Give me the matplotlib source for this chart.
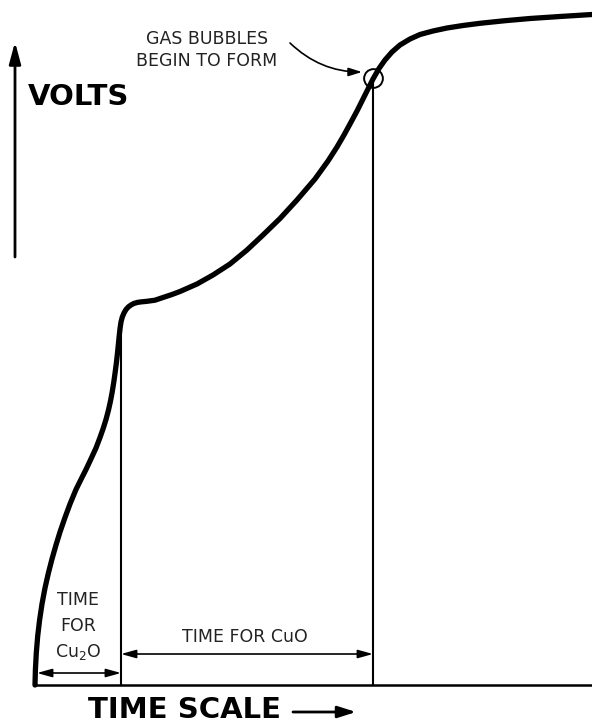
import matplotlib
matplotlib.use("Agg")
import matplotlib.pyplot as plt
import numpy as np

plt.rcParams['font.family'] = 'DejaVu Sans'
plt.rcParams['mathtext.default'] = 'regular'

# schematic anodizing curve (time, volts) in arbitrary units
time = [0, 0.4, 1.3, 2.7, 4.6, 7, 10, 13.4, 17, 21,
        25, 30, 35, 41, 46.7, 51, 55, 61, 65, 68,
        71, 73.5, 75.5, 77.2, 78.8, 80.2, 81.5, 82.6, 83.5, 84.3,
        85.1, 86, 87.3, 89, 91, 93.5, 96, 99, 102.5, 106,
        112, 120, 128, 137, 145, 162, 178, 195, 212, 228,
        245, 262, 280, 293, 302, 309, 315, 322, 328, 333,
        338, 344, 350, 357, 365, 375, 385, 398, 412, 428,
        445, 470, 495, 525, 557]
volts = [0, 15, 32, 49, 65, 81, 97, 112, 126, 140,
         153, 167.5, 181, 195.5, 207, 215.5, 224, 237, 247.5, 256,
         265.5, 275, 284, 293, 303, 313, 323, 333, 342, 350,
         357, 363, 368, 372, 375.5, 378.2, 380, 381.6, 382.6, 383.1,
         383.7, 384.8, 387.5, 390.5, 393.5, 401, 410, 421, 435, 450,
         466.5, 485, 506, 524, 538, 550, 561, 574, 586, 596,
         606, 616.5, 625, 633, 640, 646, 650.5, 654, 657, 659.5,
         661.7, 664.3, 666.5, 668.5, 670.5]

t_cu2o = 86      # end of Cu2O stage
t_cuo = 338      # gas bubbles begin
bubble_point = (338, 607)

fig = plt.figure(figsize=(5.92, 7.23), dpi=100)
ax = fig.add_axes([0, 0, 1, 1])
ax.set_xlim(-35, 557)
ax.set_ylim(-38, 685)
ax.axis('off')

# baseline
ax.plot([-2, 557], [0, 0], color='black', lw=1.8, solid_capstyle='butt')

# curve
ax.plot(time, volts, color='black', lw=3.8, solid_joinstyle='round',
        solid_capstyle='round')

# vertical markers
for t in (t_cu2o, t_cuo):
    ax.plot([t, t], [0, np.interp(t, time, volts)], color='black', lw=1.5)

# bubble circle
ax.plot(*bubble_point, 'o', ms=13.5, mfc='none', mec='black', mew=1.4)

# interval arrows
arr = dict(arrowstyle='<|-|>,head_length=0.9,head_width=0.25',
           color='black', lw=1.2, shrinkA=0, shrinkB=0)
ax.annotate('', xy=(2, 12), xytext=(t_cu2o, 12), arrowprops=arr)
ax.annotate('', xy=(t_cu2o, 31), xytext=(t_cuo, 31), arrowprops=arr)

ax.text(210, 48, 'TIME FOR CuO', ha='center', va='center', fontsize=12.5,
        color='#222222')
for y, s in zip([85, 59, 33], ['TIME', 'FOR', 'Cu$_2$O']):
    ax.text(43, y, s, ha='center', va='center', fontsize=12.5, color='#222222')

# gas bubble annotation
ax.text(172, 635, 'GAS BUBBLES\nBEGIN TO FORM', ha='center', va='center',
        fontsize=12.5, color='#222222', linespacing=1.35)
ax.annotate('', xy=(327, 613), xytext=(255, 642),
            arrowprops=dict(arrowstyle='-|>,head_length=0.8,head_width=0.25',
                            color='black', lw=1.2, shrinkA=0, shrinkB=0,
                            connectionstyle='arc3,rad=0.2'))

# axis arrows and labels
ax.annotate('', xy=(-20, 643), xytext=(-20, 428),
            arrowprops=dict(arrowstyle='-|>,head_length=1.3,head_width=0.35',
                            color='black', lw=2, shrinkA=0, shrinkB=0))
ax.text(-7, 588, 'VOLTS', ha='left', va='center', fontsize=21,
        fontweight='bold')
ax.text(53, -25, 'TIME SCALE', ha='left', va='center', fontsize=21,
        fontweight='bold')
ax.annotate('', xy=(321, -27), xytext=(258, -27),
            arrowprops=dict(arrowstyle='-|>,head_length=1.1,head_width=0.35',
                            color='black', lw=2, shrinkA=0, shrinkB=0))

fig.savefig('out.png', dpi=100)
